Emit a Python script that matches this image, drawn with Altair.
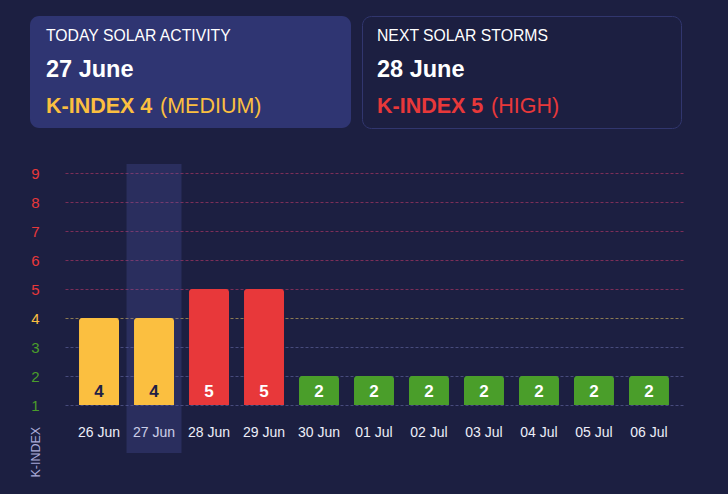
import altair as alt
import pandas as pd

days = ["26 Jun", "27 Jun", "28 Jun", "29 Jun", "30 Jun", "01 Jul", "02 Jul", "03 Jul", "04 Jul", "05 Jul", "06 Jul"]
kindex = [4, 4, 5, 5, 2, 2, 2, 2, 2, 2, 2]
today = "27 Jun"
ticks = [1, 2, 3, 4, 5, 6, 7, 8, 9]

BG = "#1c1f41"
YEL = "#fbbf40"
RED = "#e8383a"
GRN = "#4a9e2a"
FONT = "Arial, 'Liberation Sans', Helvetica, sans-serif"

def level(k):
    return "low" if k <= 3 else ("medium" if k == 4 else "high")

df = pd.DataFrame({"day": days, "k": kindex, "base": [1] * len(days)})
df["level"] = [level(k) for k in kindex]

W, H = 618, 232  # plot area
PL, PT = 65, 173

xs = alt.X("day:N", sort=days, title=None,
           scale=alt.Scale(paddingInner=0.273, paddingOuter=0.255),
           axis=alt.Axis(labelColor="#eceef8", labelFontSize=14, labelFont=FONT,
                         labelPadding=20, ticks=False, domain=False, labelAngle=0))
ys = alt.Y("k:Q", scale=alt.Scale(domain=[1, 9], nice=False, zero=False),
           axis=alt.Axis(values=ticks, title="K-INDEX", titleAngle=270, titleAlign="left",
                         titleBaseline="middle", titleX=-30, titleY=304,
                         titleColor="#a9aad8", titleFont=FONT, titleFontSize=12.5,
                         titleFontWeight="normal",
                         labelFont=FONT, labelFontSize=15, labelPadding=30, labelAlign="center",
                         labelColor={"condition": [{"test": "datum.value <= 3", "value": GRN},
                                                   {"test": "datum.value == 4", "value": YEL}],
                                     "value": RED},
                         gridColor={"condition": [{"test": "datum.value <= 3", "value": "#474b7c"},
                                                  {"test": "datum.value == 4", "value": "#8c7a52"}],
                                    "value": "#7c2e58"},
                         gridDash=[3, 2], gridWidth=1, ticks=False, domain=False, tickCount=9))

base = alt.Chart(df)

highlight = base.transform_filter(alt.datum.day == today).mark_bar(
    color="#5a62c0", opacity=0.23, width={"band": 1.375}, clip=False
).encode(x=xs, y=alt.value(-9), y2=alt.value(280))

bars = base.mark_bar(cornerRadiusTopLeft=3, cornerRadiusTopRight=3).encode(
    x=xs, y=ys, y2="base:Q",
    color=alt.Color("level:N", scale=alt.Scale(domain=["low", "medium", "high"], range=[GRN, YEL, RED]),
                    legend=None),
)

labels = base.mark_text(font=FONT, fontSize=17, fontWeight="bold", dy=-13).encode(
    x=xs, y=alt.Y("base:Q", scale=alt.Scale(domain=[1, 9], nice=False, zero=False)),
    text="k:Q",
    color=alt.condition("datum.k == 4", alt.value("#1e2146"), alt.value("#ffffff")),
)

# Cards
card1 = alt.Chart(pd.DataFrame({"a": [0]})).mark_rect(
    color="#2f3572", cornerRadius=9, clip=False
).encode(x=alt.value(30 - PL), x2=alt.value(351 - PL), y=alt.value(16 - PT), y2=alt.value(128 - PT))
card2 = alt.Chart(pd.DataFrame({"a": [0]})).mark_rect(
    fill=BG, stroke="#31366e", strokeWidth=1, cornerRadius=9, clip=False
).encode(x=alt.value(362.5 - PL), x2=alt.value(681.5 - PL), y=alt.value(16.5 - PT), y2=alt.value(128.5 - PT))

texts = [
    ("TODAY SOLAR ACTIVITY", 46, 36, 15.75, "normal", "#ffffff"),
    ("27 June", 46, 70, 23.5, "bold", "#ffffff"),
    ("K-INDEX 4", 46, 106.5, 21.5, "bold", YEL),
    ("(MEDIUM)", 160, 106.5, 21.5, "normal", YEL),
    ("NEXT SOLAR STORMS", 377, 36, 15.75, "normal", "#ffffff"),
    ("28 June", 377, 70, 23.5, "bold", "#ffffff"),
    ("K-INDEX 5", 377, 106.5, 21.5, "bold", RED),
    ("(HIGH)", 491, 106.5, 21.5, "normal", RED),
]
text_layers = []
for t, tx, ty, fs, fw, c in texts:
    text_layers.append(
        alt.Chart(pd.DataFrame({"t": [t]})).mark_text(
            align="left", baseline="middle", font=FONT, fontSize=fs, fontWeight=fw, color=c, clip=False
        ).encode(text="t:N", x=alt.value(tx - PL), y=alt.value(ty - PT))
    )

chart = alt.layer(card1, card2, *text_layers, highlight, bars, labels).properties(
    width=W, height=H,
    autosize=alt.AutoSizeParams(type="none"),
    padding={"left": PL, "top": PT, "right": 728 - PL - W, "bottom": 494 - PT - H},
    background=BG,
).configure_view(stroke=None)

chart.save("out.html", embed_options={"renderer": "svg", "actions": False})
